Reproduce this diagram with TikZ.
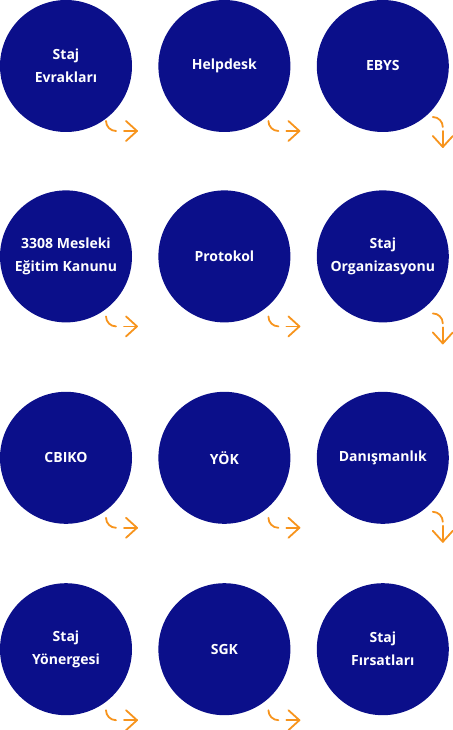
\documentclass[tikz,border=0pt]{standalone}
\usepackage{fontspec}
\setmainfont{Open Sans}
\usepackage{tikz}
\usetikzlibrary{positioning,calc}
\definecolor{BadgeNavy}{HTML}{0B0F8A}
\definecolor{TurnOrange}{HTML}{F7941D}

\begin{document}
\begin{tikzpicture}[
  x=1pt,y=1pt,
  badge/.style={circle,fill=BadgeNavy,minimum size=132pt,inner sep=0pt,text=white,align=center,font=\bfseries\fontsize{14}{23}\selectfont},
  turn/.style={draw=TurnOrange,line width=1.8pt,line cap=round,line join=round},
  pics/turnright/.style={code={
    \draw[turn] (0,0) arc (180:270:10pt);
    \draw[turn] (18,-10) -- (31,-10);
    \draw[turn] (20,0) -- (31,-10) -- (20,-20);
  }},
  pics/turndown/.style={code={
    \draw[turn] (0,0) arc (90:0:10pt);
    \draw[turn] (10,-14) -- (10,-30);
    \draw[turn] (0,-19) -- (10,-30) -- (20,-19);
  }}
]
  \useasboundingbox (0,0) rectangle (452,-730);

  % row 1
  \node[badge] (evrak) at (66,-66) {Staj\\Evrakları};
  \node[badge, right=26pt of evrak] (helpdesk) {Helpdesk};
  \node[badge, right=26pt of helpdesk] (ebys) {EBYS};
  % row 2
  \node[badge, below=58pt of evrak] (kanun) {3308 Mesleki\\Eğitim Kanunu};
  \node[badge, right=26pt of kanun] (protokol) {Protokol};
  \node[badge, right=26pt of protokol] (organizasyon) {Staj\\Organizasyonu};
  % row 3
  \node[badge, below=69pt of kanun] (cbiko) {CBIKO};
  \node[badge, right=26pt of cbiko] (yok) {YÖK};
  \node[badge, right=26pt of yok] (danisman) {Danışmanlık};
  % row 4
  \node[badge, below=59pt of cbiko] (yonerge) {Staj\\Yönergesi};
  \node[badge, right=26pt of yonerge] (sgk) {SGK};
  \node[badge, right=26pt of sgk] (firsat) {Staj\\Fırsatları};

  % turn marks
  \pic at ([shift={(40pt,-55pt)}]evrak.center) {turnright};
  \pic at ([shift={(44pt,-55pt)}]helpdesk.center) {turnright};
  \pic at ([shift={(50pt,-51pt)}]ebys.center) {turndown};
  \pic at ([shift={(40pt,-60pt)}]kanun.center) {turnright};
  \pic at ([shift={(44pt,-60pt)}]protokol.center) {turnright};
  \pic at ([shift={(50pt,-57pt)}]organizasyon.center) {turndown};
  \pic at ([shift={(40pt,-60pt)}]cbiko.center) {turnright};
  \pic at ([shift={(44pt,-60pt)}]yok.center) {turnright};
  \pic at ([shift={(50pt,-54pt)}]danisman.center) {turndown};
  \pic at ([shift={(40pt,-61pt)}]yonerge.center) {turnright};
  \pic at ([shift={(44pt,-61pt)}]sgk.center) {turnright};
\end{tikzpicture}
\end{document}
